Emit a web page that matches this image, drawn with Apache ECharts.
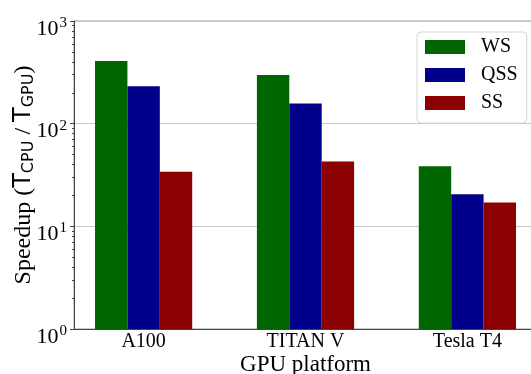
<!DOCTYPE html>
<html>
<head>
<meta charset="utf-8">
<script src="https://cdn.jsdelivr.net/npm/echarts@6/dist/echarts.min.js"></script>
<style>html,body{margin:0;padding:0;background:#fff}#c{width:531px;height:374px}</style>
</head>
<body>
<div id="c"></div>
<script>
const categories = ['A100', 'TITAN V', 'Tesla T4'];
const seriesNames = ['WS', 'QSS', 'SS'];
const wsValues = [407, 298, 38.4];
const qssValues = [231, 157, 20.5];
const ssValues = [34.1, 42.7, 17.1];
const yMajorTicks = [1, 10, 100, 1000];
const yMinorTicks = [2,3,4,5,6,7,8,9,20,30,40,50,60,70,80,90,200,300,400,500,600,700,800,900];
const colors = ['#006400', '#00008b', '#8b0000'];

const SERIF = '"Liberation Serif", "Times New Roman", serif';
const SANS = '"DejaVu Sans", sans-serif';
const chart = echarts.init(document.getElementById('c'), null, {renderer: 'canvas'});

function mkSeries(name, vals, i) {
  return {
    name: name, type: 'bar',
    data: vals.map((v, k) => [k, v]),
    barWidth: 32.4, barGap: '0%',
    itemStyle: {color: colors[i]},
    emphasis: {disabled: true}
  };
}

chart.setOption({
  animation: false,
  grid: {left: 74, right: -6, top: 21, bottom: 45, show: true, borderColor: '#999', borderWidth: 1,
         containLabel: false, outerBoundsMode: 'none'},
  legend: {
    left: 417, top: 32, orient: 'vertical',
    itemWidth: 40, itemHeight: 14, itemGap: 8,
    padding: [5, 9, 10, 8],
    borderColor: '#d6d6d6', borderWidth: 1, borderRadius: 4,
    backgroundColor: '#fff',
    icon: 'rect',
    textStyle: {fontFamily: SERIF, fontSize: 20, lineHeight: 20, color: '#000', padding: [0, 0, 0, 11]},
    data: seriesNames
  },
  xAxis: {
    type: 'value', min: -0.43, max: 2.43,
    name: 'GPU platform', nameLocation: 'middle', nameGap: 24, nameMoveOverlap: false,
    nameTextStyle: {fontFamily: SERIF, fontSize: 23, color: '#000'},
    axisLine: {show: true, onZero: false, lineStyle: {color: '#444', width: 1}},
    axisTick: {show: false},
    splitLine: {show: false},
    axisLabel: {
      customValues: [0, 1, 2],
      formatter: v => categories[Math.round(v)] || '',
      fontFamily: SERIF, fontSize: 20, color: '#000', margin: 3
    }
  },
  yAxis: [{
    type: 'log', logBase: 10, min: 1, max: 1000,
    name: '{a|Speedup (}{t|T}{s|CPU}{a| / }{t|T}{s|GPU}{a|)}',
    nameLocation: 'middle', nameRotate: 90, nameGap: 37, nameMoveOverlap: false,
    nameTextStyle: {
      color: '#000',
      rich: {
        a: {fontFamily: SERIF, fontSize: 24, color: '#000'},
        t: {fontFamily: SANS, fontSize: 24, color: '#000'},
        s: {fontFamily: SANS, fontSize: 16, color: '#000', padding: [10, 0, 0, 0]}
      }
    },
    axisLine: {show: true, onZero: false, lineStyle: {color: '#444', width: 1}},
    axisTick: {show: true, length: 4, lineStyle: {color: '#444', width: 1}},
    splitLine: {show: true, lineStyle: {color: '#c8c8c8', width: 1}},
    axisLabel: {
      margin: 7,
      padding: [16, 0, 0, 0],
      formatter: v => '{b|10}{e|' + Math.round(Math.log10(v)) + '}',
      rich: {
        b: {fontFamily: SERIF, fontSize: 22, color: '#000'},
        e: {fontFamily: SERIF, fontSize: 15, color: '#000', padding: [0, 0, 12, 1]}
      }
    }
  }, {
    type: 'log', logBase: 10, min: 1, max: 1000, position: 'left',
    axisLine: {show: false, onZero: false},
    axisTick: {show: true, length: 2, customValues: yMinorTicks, lineStyle: {color: '#444', width: 1}},
    axisLabel: {show: false},
    splitLine: {show: false}
  }],
  series: [
    mkSeries(seriesNames[0], wsValues, 0),
    mkSeries(seriesNames[1], qssValues, 1),
    mkSeries(seriesNames[2], ssValues, 2)
  ]
});
</script>
</body>
</html>
